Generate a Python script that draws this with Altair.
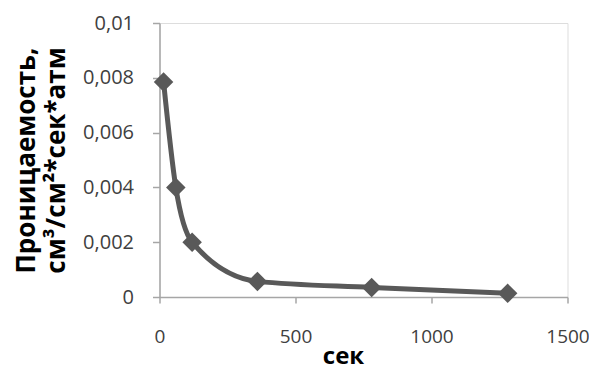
import altair as alt
import pandas as pd

seconds = [15, 60, 120, 360, 780, 1280]
permeability = [0.00785, 0.0040, 0.0020, 0.00057, 0.00035, 0.000135]
x_ticks = [0, 500, 1000, 1500]
y_ticks = [0, 0.002, 0.004, 0.006, 0.008, 0.01]

df = pd.DataFrame({"t": seconds, "p": permeability})

AX = "#a6a6a6"
LBL = "#404040"
SER = "#595959"

x_enc = alt.X(
    "t:Q",
    scale=alt.Scale(domain=[0, 1500], nice=False, zero=True),
    axis=alt.Axis(
        values=x_ticks, format="d", title="сек",
        grid=False, domainColor=AX, domainWidth=1.5, tickColor=AX, tickWidth=1.5, tickSize=6,
        labelFont="Open Sans", labelFontSize=19, labelColor=LBL,
        labelBaseline="alphabetic", labelPadding=39, labelFlush=False,
        titleFont="Open Sans", titleFontSize=24, titleFontWeight="bold", titleColor="#000000",
        titleX=183.5, titleY=66, titleBaseline="alphabetic", titleAlign="center",
    ),
)
y_enc = alt.Y(
    "p:Q",
    scale=alt.Scale(domain=[0, 0.01], nice=False, zero=True),
    axis=alt.Axis(
        values=y_ticks, format=".3~f", labelExpr="replace(datum.label, '.', ',')",
        title=["Проницаемость,", "см³/см²*сек*атм"],
        grid=False, domainColor=AX, domainWidth=1.5, tickColor=AX, tickWidth=1.5, tickSize=7,
        labelFont="Open Sans", labelFontSize=20, labelColor=LBL,
        labelBaseline="middle", labelPadding=19, labelFlush=False,
        titleFont="Open Sans", titleFontSize=26, titleFontWeight="bold", titleColor="#000000",
        titleAngle=-90, titleX=-125, titleY=137, titleBaseline="alphabetic",
        titleAlign="center", titleLineHeight=30,
    ),
)

line = alt.Chart(df).mark_line(
    color=SER, strokeWidth=5, interpolate="monotone"
).encode(x=x_enc, y=y_enc)

pts = alt.Chart(df).mark_point(
    shape="diamond", filled=True, color=SER, size=380, opacity=1
).encode(x="t:Q", y="p:Q")

chart = alt.layer(line, pts).properties(
    width=408,
    height=274,
    autosize=alt.AutoSizeParams(type="none"),
    padding={"left": 151.5, "top": 15, "right": 21.5, "bottom": 73},
).configure_view(stroke=None).configure(background="#ffffff")

chart.save("out.html", embed_options={"renderer": "svg", "actions": False})
